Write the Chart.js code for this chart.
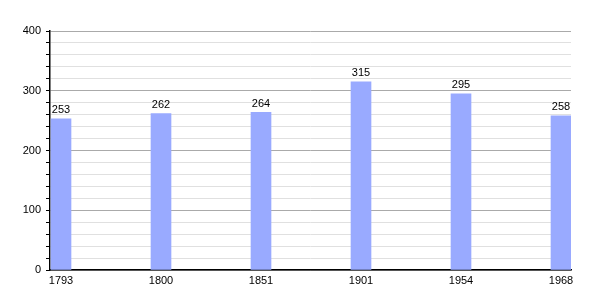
<!DOCTYPE html>
<html>
<head>
<meta charset="utf-8">
<script src="https://cdn.jsdelivr.net/npm/chart.js@4"></script>
<style>
  html, body { margin: 0; padding: 0; background: #fff; }
  #wrap { width: 600px; height: 300px; }
</style>
</head>
<body>
<div id="wrap"><canvas id="mycanvas"></canvas></div>
<script>
var years = ["1793", "1800", "1851", "1901", "1954", "1968"];
var population = [253, 262, 264, 315, 295, 258];

var points = [];
for (var i = 0; i < years.length; i++) {
    points.push({ x: i, y: population[i] });
}

// value above each bar
var valueLabels = {
    id: 'valueLabels',
    afterDatasetsDraw: function(chart) {
        var ctx = chart.ctx;
        var meta = chart.getDatasetMeta(0);
        ctx.save();
        ctx.font = '11px "Liberation Sans", Arial, sans-serif';
        ctx.fillStyle = '#000';
        ctx.textAlign = 'center';
        ctx.textBaseline = 'bottom';
        meta.data.forEach(function(bar, i) {
            ctx.fillText(population[i], bar.x, bar.y - 3);
        });
        ctx.restore();
    }
};

var ctx = document.getElementById("mycanvas").getContext('2d');
var chart = new Chart(ctx, {
    type: 'bar',
    data: {
        datasets: [{
            label: "population",
            data: points,
            backgroundColor: '#99aaff',
            borderWidth: 0,
            barThickness: 20
        }]
    },
    options: {
        responsive: true,
        maintainAspectRatio: false,
        animation: false,
        layout: { padding: { top: 31, right: 29, left: 0, bottom: 0 } },
        plugins: {
            legend: { display: false },
            tooltip: { enabled: false }
        },
        scales: {
            x: {
                type: 'linear',
                offset: false,
                min: -0.11,
                max: 5.1,
                afterFit: function(scale) { scale.height = 30; },
                afterBuildTicks: function(scale) {
                    scale.ticks = years.map(function(y, i) { return { value: i }; });
                },
                grid: { display: false, drawTicks: false, offset: false },
                border: { color: '#000', width: 1.5 },
                ticks: {
                    color: '#000',
                    padding: 4,
                    maxRotation: 0,
                    autoSkip: false,
                    font: { size: 11, family: '"Liberation Sans", Arial, sans-serif' },
                    callback: function(value) { return years[value]; }
                }
            },
            y: {
                min: 0,
                max: 400,
                afterFit: function(scale) { scale.width = 50; },
                grid: {
                    color: function(c) {
                        return c.tick && c.tick.value % 100 === 0 ? '#aaaaaa' : '#e0e0e0';
                    },
                    tickColor: '#000',
                    tickLength: 4
                },
                border: { color: '#000', width: 1.5 },
                ticks: {
                    stepSize: 20,
                    color: '#000',
                    padding: 5,
                    autoSkip: false,
                    font: { size: 11, family: '"Liberation Sans", Arial, sans-serif' },
                    callback: function(value) { return value % 100 === 0 ? value : ''; }
                }
            }
        }
    },
    plugins: [valueLabels]
});
</script>
</body>
</html>
